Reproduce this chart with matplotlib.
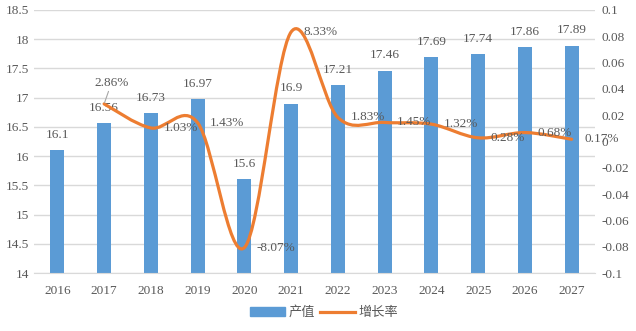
import numpy as np
import matplotlib.pyplot as plt
from matplotlib.path import Path
from matplotlib.patches import PathPatch

plt.rcParams['font.family'] = ['Liberation Serif', 'Noto Sans CJK SC']

years = ['2016', '2017', '2018', '2019', '2020', '2021', '2022', '2023', '2024', '2025', '2026', '2027']
output = [16.1, 16.56, 16.73, 16.97, 15.6, 16.9, 17.21, 17.46, 17.69, 17.74, 17.86, 17.89]
growth = [2.86, 1.03, 1.43, -8.07, 8.33, 1.83, 1.45, 1.32, 0.28, 0.68, 0.17]  # % from 2017

txt = '#595959'
grid = '#d9d9d9'

fig = plt.figure(figsize=(6.36, 3.31), dpi=100)
ax = fig.add_axes([34 / 636, 1 - 273 / 331, 561 / 636, 263 / 331])
ax2 = ax.twinx()

x = np.arange(len(years))
bars = ax.bar(x, output, width=0.3, color='#5b9bd5', zorder=2)
ax.set_ylim(14, 18.5)
ax.set_yticks(np.arange(14, 18.51, 0.5))
ax.set_yticklabels(['14', '14.5', '15', '15.5', '16', '16.5', '17', '17.5', '18', '18.5'])
ax.set_xlim(-0.5, len(years) - 0.5)
ax.set_xticks(x)
ax.set_xticklabels(years)
ax.grid(axis='y', color=grid, lw=1, zorder=0)
for s in ['top', 'left', 'right']:
    ax.spines[s].set_visible(False)
ax.spines['bottom'].set_color(grid)
ax.tick_params(length=0, colors=txt, labelsize=9.5)
ax.tick_params(axis='x', pad=9)
for xi, v in zip(x, output):
    ax.annotate(f'{v:g}', (xi, v), xytext=(0, 7), textcoords='offset points',
                ha='center', va='bottom', color=txt, fontsize=9.5)

# growth line, smoothed like Excel (Catmull-Rom -> cubic Bezier)
gx = x[1:].astype(float)
gy = np.array(growth) / 100
pts = np.column_stack([gx, gy])
ext = np.vstack([pts[0], pts, pts[-1]])
verts = [tuple(pts[0])]
codes = [Path.MOVETO]
for i in range(len(pts) - 1):
    p0, p1, p2, p3 = ext[i], ext[i + 1], ext[i + 2], ext[i + 3]
    c1 = p1 + (p2 - p0) / 6
    c2 = p2 - (p3 - p1) / 6
    verts += [tuple(c1), tuple(c2), tuple(p2)]
    codes += [Path.CURVE4] * 3
ax2.add_patch(PathPatch(Path(verts, codes), fill=False, edgecolor='#ed7d31',
                        lw=2.3, capstyle='round', zorder=3))
ax2.set_ylim(-0.1, 0.1)
ax2.set_yticks(np.arange(-0.1, 0.101, 0.02))
ax2.set_yticklabels(['-0.1', '-0.08', '-0.06', '-0.04', '-0.02', '0', '0.02', '0.04', '0.06', '0.08', '0.1'])
for s in ['top', 'left', 'right', 'bottom']:
    ax2.spines[s].set_visible(False)
ax2.tick_params(length=0, colors=txt, labelsize=9.5, pad=5)

for i, (xi, v) in enumerate(zip(gx, growth)):
    if i == 0:
        ax2.annotate(f'{v:.2f}%', (xi, v / 100), xytext=(-7, 11), textcoords='offset points',
                     ha='left', va='bottom', color=txt, fontsize=9.5,
                     arrowprops=dict(arrowstyle='-', color='#a6a6a6', lw=0.8, shrinkA=0, shrinkB=1))
    else:
        ax2.annotate(f'{v:.2f}%', (xi, v / 100), xytext=(9, 0), textcoords='offset points',
                     ha='left', va='center', color=txt, fontsize=9.5)

h1 = plt.Rectangle((0, 0), 1, 1, color='#5b9bd5')
h2 = plt.Line2D([], [], color='#ed7d31', lw=2.3)
fig.legend([h1, h2], ['产值', '增长率'], loc='lower center', bbox_to_anchor=(0.51, 0.0),
           ncol=2, frameon=False, fontsize=9.5, labelcolor=txt, handlelength=2.6,
           handleheight=0.6, columnspacing=0.4, handletextpad=0.3)

fig.savefig('out.png', dpi=100)
